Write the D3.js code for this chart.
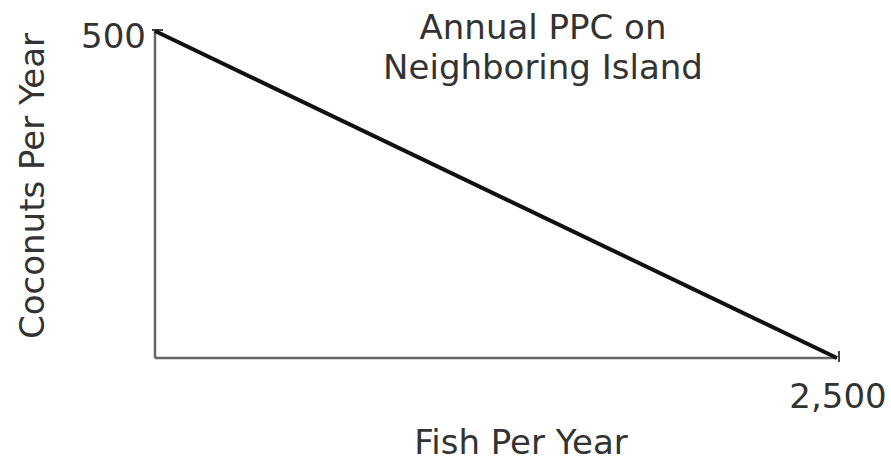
<!DOCTYPE html>
<html>
<head>
    <script src="https://d3js.org/d3.v7.min.js"></script>
    <style>
        body { margin: 0; background: #fff; }
        text { font-family: "DejaVu Sans", sans-serif; fill: #333; }
    </style>
</head>
<body>
    <svg id="mysvg" width="891" height="463"></svg>
    <script>
        var svg = d3.select("svg");
        var margin = { top: 31, left: 155, right: 54, bottom: 105 };
        var width = 891 - margin.left - margin.right;
        var height = 463 - margin.top - margin.bottom;
        var fs = "34px";

        // PPC end points: fish per year, coconuts per year
        var fish = [0, 2500];
        var coconuts = [500, 0];
        var xTicks = [2500];
        var yTicks = [500];

        var xScale = d3.scaleLinear().domain([0, 2500]).range([0, width]);
        var yScale = d3.scaleLinear().domain([0, 500]).range([height, 0]);

        var g = svg.append("g")
            .attr("transform", "translate(" + margin.left + "," + margin.top + ")");

        // axes
        g.append("line")
            .attr("x1", 0).attr("y1", yScale(0))
            .attr("x2", xScale(2500)).attr("y2", yScale(0))
            .attr("stroke", "#666").attr("stroke-width", 2.5);
        g.append("line")
            .attr("x1", 0).attr("y1", yScale(0))
            .attr("x2", 0).attr("y2", yScale(500))
            .attr("stroke", "#666").attr("stroke-width", 2.5);

        // small tick marks at the ends
        g.selectAll(".xt").data(xTicks).enter().append("line")
            .attr("x1", d => xScale(d) + 2).attr("x2", d => xScale(d) + 2)
            .attr("y1", yScale(0) - 7).attr("y2", yScale(0) + 4)
            .attr("stroke", "#444").attr("stroke-width", 2);
        g.selectAll(".yt").data(yTicks).enter().append("line")
            .attr("x1", -3).attr("x2", 8)
            .attr("y1", d => yScale(d) - 1).attr("y2", d => yScale(d) - 1)
            .attr("stroke", "#444").attr("stroke-width", 2);

        // PPC line
        var pts = fish.map((f, i) => [f, coconuts[i]]);
        g.append("path")
            .datum(pts)
            .attr("d", d3.line().x(d => xScale(d[0])).y(d => yScale(d[1])))
            .attr("fill", "none")
            .attr("stroke", "#111")
            .attr("stroke-width", 4);

        // tick labels
        g.selectAll(".yl").data(yTicks).enter().append("text")
            .attr("x", -9).attr("y", d => yScale(d) + 17)
            .attr("text-anchor", "end")
            .style("font-size", fs)
            .text(d => d3.format(",")(d));
        g.selectAll(".xl").data(xTicks).enter().append("text")
            .attr("x", d => xScale(d) + 1).attr("y", yScale(0) + 50)
            .attr("text-anchor", "middle")
            .style("font-size", fs)
            .text(d => d3.format(",")(d));

        // title
        svg.append("text").attr("x", 543).attr("y", 39)
            .attr("text-anchor", "middle").style("font-size", fs)
            .text("Annual PPC on");
        svg.append("text").attr("x", 543).attr("y", 79)
            .attr("text-anchor", "middle").style("font-size", fs)
            .text("Neighboring Island");

        // axis titles
        svg.append("text").attr("x", 521).attr("y", 454)
            .attr("text-anchor", "middle").style("font-size", fs)
            .text("Fish Per Year");
        svg.append("text")
            .attr("transform", "translate(44,186) rotate(-90)")
            .attr("text-anchor", "middle").style("font-size", fs)
            .text("Coconuts Per Year");
    </script>
</body>
</html>
